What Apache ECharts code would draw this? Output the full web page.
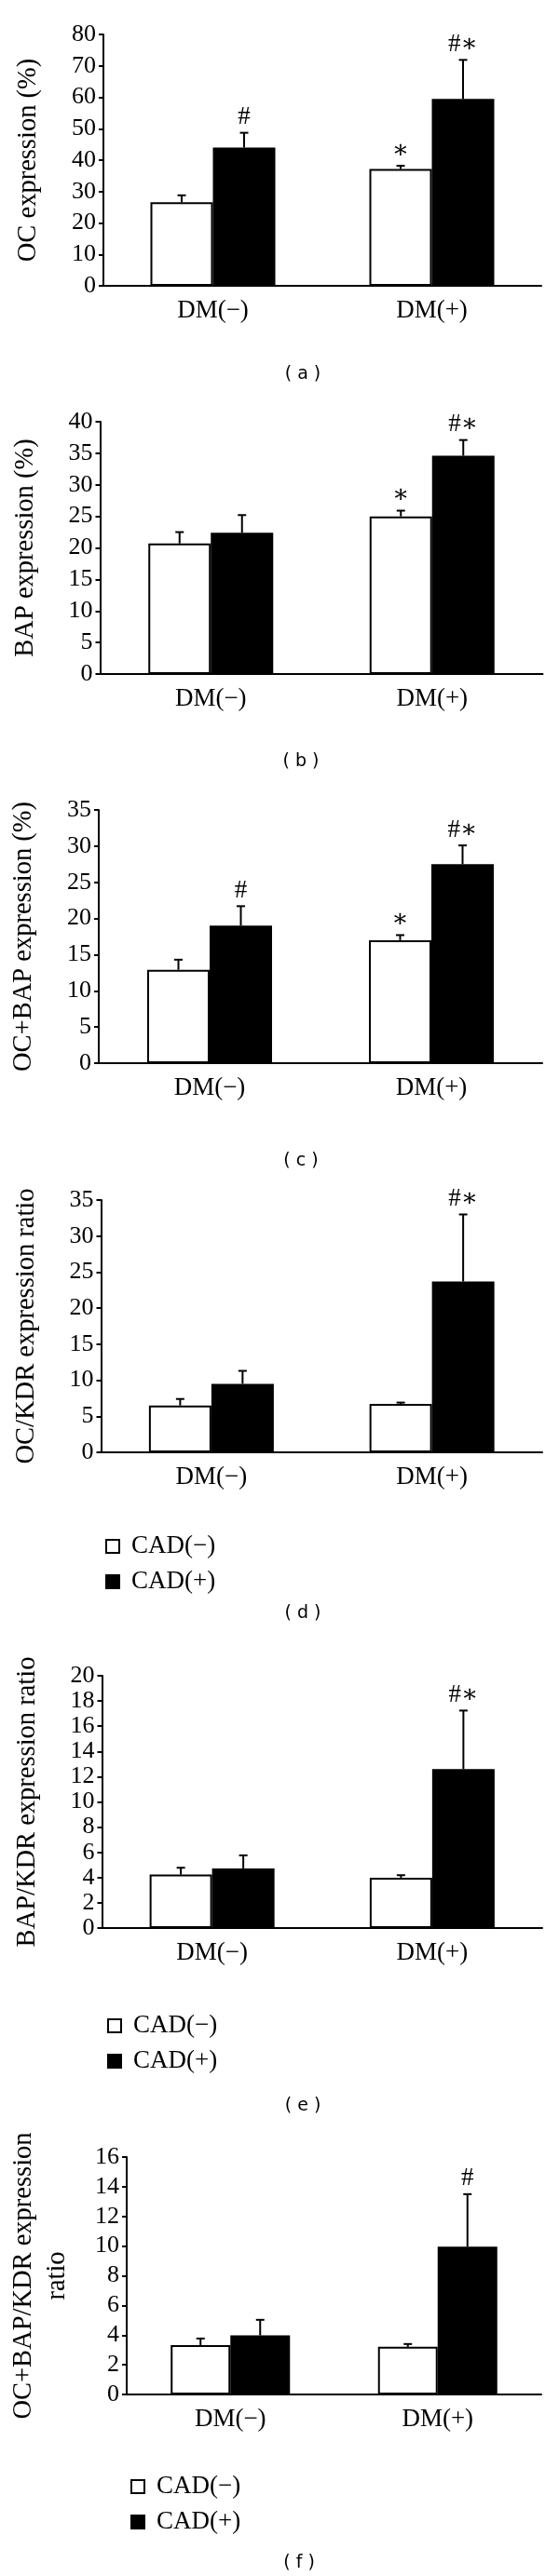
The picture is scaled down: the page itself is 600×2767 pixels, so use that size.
<!DOCTYPE html>
<html><head><meta charset="utf-8">
<script src="https://cdn.jsdelivr.net/npm/echarts@6/dist/echarts.min.js"></script>
<style>html,body{margin:0;padding:0;background:#fff}#c{width:600px;height:2767px}</style>
</head><body><div id="c"></div>
<script>
// ---------- data ----------
const categories = ['DM(−)', 'DM(+)'];
const groupNames = ['CAD(−)', 'CAD(+)'];
const panelCaptions = ['( a )', '( b )', '( c )', '( d )', '( e )', '( f )'];
const yTitles = ['OC expression (%)', 'BAP expression (%)', 'OC+BAP expression (%)',
  'OC/KDR expression ratio', 'BAP/KDR expression ratio', 'OC+BAP/KDR expression\nratio'];
const yMax = [80, 40, 35, 35, 20, 16];
const yStep = [10, 5, 5, 5, 2, 2];

// means (CAD(-) white, CAD(+) black), per DM(-), DM(+)
const ocNeg = [26.6, 37.2],  ocPos = [44.0, 59.5];
const ocNegSd = [2.2, 1.0],  ocPosSd = [4.7, 12.4];
const bapNeg = [20.7, 25.0], bapPos = [22.4, 34.6];
const bapNegSd = [1.8, 0.9], bapPosSd = [2.8, 2.5];
const ocbNeg = [12.9, 17.0], ocbPos = [19.0, 27.5];
const ocbNegSd = [1.4, 0.7], ocbPosSd = [2.7, 2.6];
const ocKdrNeg = [6.5, 6.7], ocKdrPos = [9.5, 23.7];
const ocKdrNegSd = [0.9, 0.2], ocKdrPosSd = [1.8, 9.3];
const bapKdrNeg = [4.24, 3.99], bapKdrPos = [4.73, 12.6];
const bapKdrNegSd = [0.54, 0.2], bapKdrPosSd = [1.03, 4.64];
const ocbKdrNeg = [3.33, 3.21], ocbKdrPos = [3.98, 9.96];
const ocbKdrNegSd = [0.44, 0.19], ocbKdrPosSd = [1.05, 3.54];

// significance marks
const marksNeg = [['', '*'], ['', '*'], ['', '*'], ['', ''], ['', ''], ['', '']];
const marksPos = [['#', '#*'], ['', '#*'], ['#', '#*'], ['', '#*'], ['', '#*'], ['', '#']];

const meansNeg = [ocNeg, bapNeg, ocbNeg, ocKdrNeg, bapKdrNeg, ocbKdrNeg];
const meansPos = [ocPos, bapPos, ocbPos, ocKdrPos, bapKdrPos, ocbKdrPos];
const sdNeg = [ocNegSd, bapNegSd, ocbNegSd, ocKdrNegSd, bapKdrNegSd, ocbKdrNegSd];
const sdPos = [ocPosSd, bapPosSd, ocbPosSd, ocKdrPosSd, bapKdrPosSd, ocbKdrPosSd];

// ---------- layout ----------
const grids = [
  {left: 111, top: 37, width: 470, height: 270},
  {left: 107.5, top: 453, width: 475, height: 271},
  {left: 106, top: 870, width: 476, height: 272},
  {left: 108.5, top: 1289, width: 473.5, height: 271},
  {left: 109.5, top: 1800, width: 472.5, height: 271},
  {left: 133.5, top: 2317, width: 447.5, height: 255}
];
const barW = [67, 67, 67, 67, 67, 64];
const captionPos = [[325, 402], [323, 818], [323, 1247], [325, 1733], [325, 2262], [321, 2753]];
const legendPos = [null, null, null, {left: 108, top: 1641}, {left: 110, top: 2156}, {left: 135, top: 2651}];

const SERIF = "'Liberation Serif', 'Times New Roman', serif";
const SYM = "'Liberation Serif', 'DejaVu Serif', serif";

const option = {
  animation: false,
  backgroundColor: '#fff',
  grid: grids.map(g => Object.assign({containLabel: false}, g)),
  xAxis: grids.map((g, i) => ({
    type: 'category', gridIndex: i, data: categories,
    axisLine: {show: true, lineStyle: {color: '#000', width: 2}},
    axisTick: {show: false},
    axisLabel: {color: '#000', fontFamily: SERIF, fontSize: 27, margin: 13},
    splitLine: {show: false}
  })),
  yAxis: grids.map((g, i) => ({
    type: 'value', gridIndex: i, min: 0, max: yMax[i], interval: yStep[i],
    name: yTitles[i], nameLocation: 'middle', nameGap: i === 5 ? 56 : 62, nameRotate: 90,
    nameTextStyle: {color: '#000', fontFamily: SERIF, fontSize: 28.5, lineHeight: 36},
    axisLine: {show: true, lineStyle: {color: '#000', width: 2}},
    axisTick: {show: true, inside: false, length: 5, lineStyle: {color: '#000', width: 2}},
    axisLabel: {color: '#000', fontFamily: SERIF, fontSize: 26, margin: 8},
    splitLine: {show: false}
  })),
  legend: legendPos.filter(p => p).map(p => ({
    orient: 'vertical', left: p.left, top: p.top, data: groupNames,
    icon: 'rect', itemWidth: 14, itemHeight: 14, itemGap: 8, selectedMode: false,
    textStyle: {color: '#000', fontFamily: SERIF, fontSize: 27, lineHeight: 30, padding: [0, 0, 0, 8]}
  })),
  graphic: panelCaptions.map((t, i) => ({
    type: 'text', x: captionPos[i][0], y: captionPos[i][1],
    style: {text: t, fill: '#000', font: "19px 'DejaVu Sans', sans-serif", textAlign: 'center', textVerticalAlign: 'middle'}
  })),
  series: []
};

function errSeries(i, grp, means, sds, marks) {
  const bw = barW[i];
  return {
    type: 'custom', xAxisIndex: i, yAxisIndex: i, z: 5, silent: true,
    data: means.map((m, k) => [k, m, sds[k]]),
    renderItem: function (params, api) {
      const k = api.value(0), m = api.value(1), s = api.value(2);
      const base = api.coord([k, m]);
      const top = api.coord([k, m + s]);
      const x = base[0] + (grp === 0 ? -bw / 2 : bw / 2);
      const children = [
        {type: 'line', shape: {x1: x, y1: base[1], x2: x, y2: top[1]}, style: {stroke: '#000', lineWidth: 2}},
        {type: 'line', shape: {x1: x - 4.5, y1: top[1], x2: x + 4.5, y2: top[1]}, style: {stroke: '#000', lineWidth: 2}}
      ];
      const mk = marks[k];
      if (mk) {
        children.push({type: 'text', x: x, y: top[1] - 3,
          style: {text: mk.replace('*', '∗'), fill: '#000', font: "27px " + SYM, textAlign: 'center', textVerticalAlign: 'bottom'}});
      }
      return {type: 'group', children: children};
    }
  };
}

grids.forEach((g, i) => {
  option.series.push({
    type: 'bar', name: groupNames[0], xAxisIndex: i, yAxisIndex: i, data: meansNeg[i],
    barWidth: barW[i], barGap: '0%',
    itemStyle: {color: '#fff', borderColor: '#000', borderWidth: 2}
  });
  option.series.push({
    type: 'bar', name: groupNames[1], xAxisIndex: i, yAxisIndex: i, data: meansPos[i],
    barWidth: barW[i], barGap: '0%',
    itemStyle: {color: '#000', borderColor: '#000', borderWidth: 2}
  });
  option.series.push(errSeries(i, 0, meansNeg[i], sdNeg[i], marksNeg[i]));
  option.series.push(errSeries(i, 1, meansPos[i], sdPos[i], marksPos[i]));
});

const chart = echarts.init(document.getElementById('c'), null, {renderer: 'canvas'});
chart.setOption(option);
</script>
</body></html>
